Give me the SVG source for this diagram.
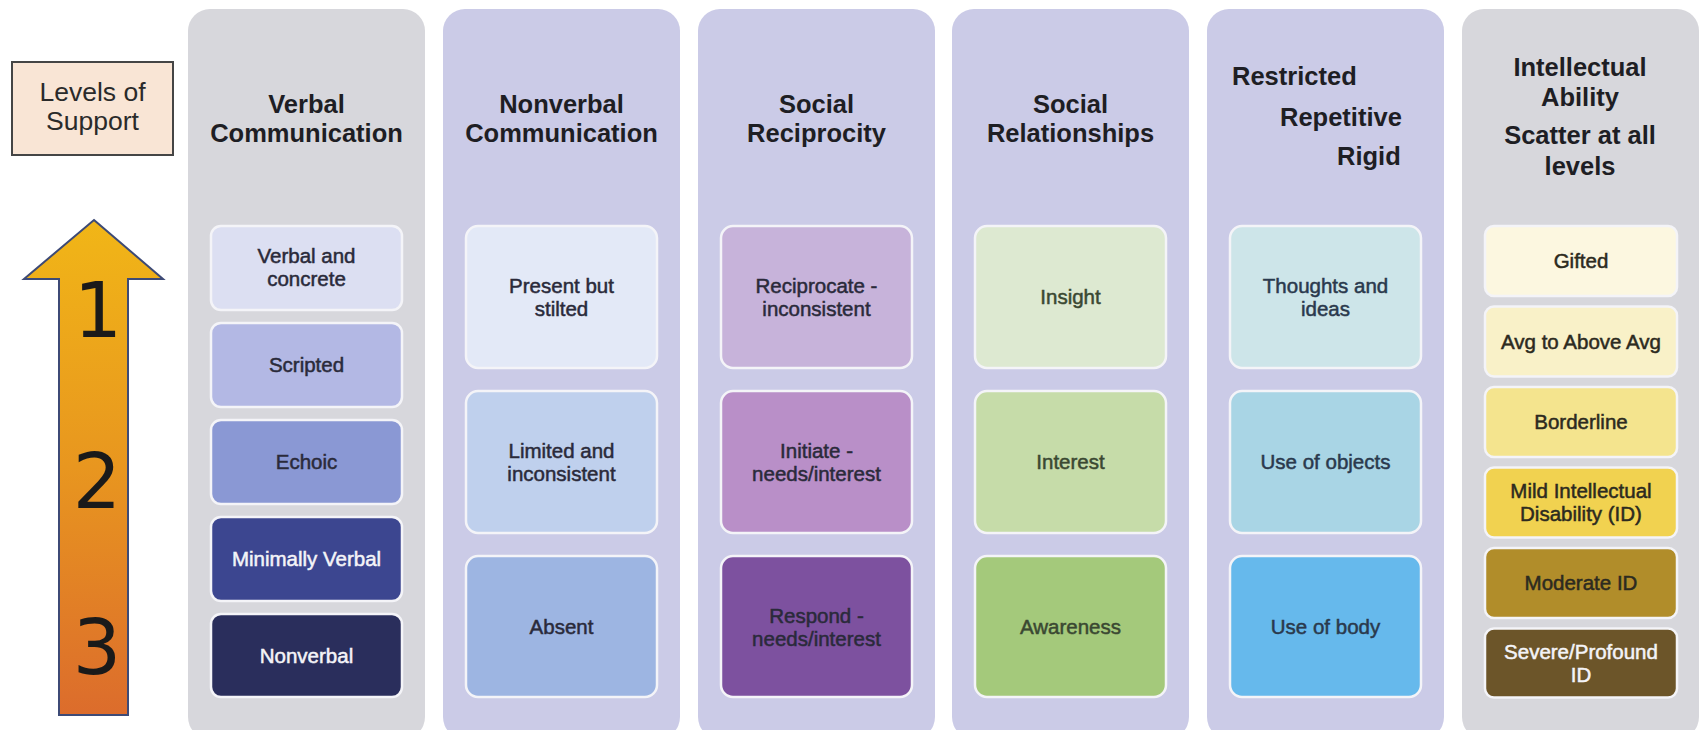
<svg xmlns="http://www.w3.org/2000/svg" width="1702" height="730" viewBox="0 0 1702 730">
<defs>
<linearGradient id="arrowGrad" x1="0" y1="0" x2="0" y2="1">
<stop offset="0" stop-color="#f1b617"/>
<stop offset="0.5" stop-color="#e8961f"/>
<stop offset="1" stop-color="#dc6c2c"/>
</linearGradient>
<style>
.colG{fill:#d7d7dc;}
.colL{fill:#cbcbe7;}
.box{stroke:#f4f4f8;stroke-width:2.5;}
.hdr{font-family:"Liberation Sans",Arial,sans-serif;font-weight:bold;font-size:25.5px;fill:#1e1e24;text-anchor:middle;}
.hdrS{font-family:"Liberation Sans",Arial,sans-serif;font-weight:bold;font-size:25.5px;fill:#1e1e24;}
.t{font-family:"Liberation Sans",Arial,sans-serif;font-size:20.5px;text-anchor:middle;fill:#2a2a3a;stroke:#2a2a3a;stroke-width:0.5;}
.tw{fill:#f4f4f8;stroke:#f4f4f8;}
.tg{fill:#3a4832;stroke:#3a4832;}
.tb{fill:#2a394d;stroke:#2a394d;}
.ty{fill:#2c2a20;stroke:#2c2a20;}
.num{font-family:"DejaVu Sans",sans-serif;font-size:76px;fill:#1a1a1a;text-anchor:middle;}
.lvl{font-family:"Liberation Sans",Arial,sans-serif;font-size:26.5px;fill:#2a2a2a;text-anchor:middle;}
</style>
</defs>
<rect width="1702" height="730" fill="#ffffff"/>

<g id="levels-of-support">
<rect x="12" y="62" width="161" height="93" fill="#f9e5d5" stroke="#454545" stroke-width="2"/>
<text class="lvl" x="92.5" y="101">Levels of</text>
<text class="lvl" x="92.5" y="130">Support</text>
</g>

<g id="support-arrow">
<polygon points="94,220 163,279 128,279 128,715 59,715 59,279 24,279" fill="url(#arrowGrad)" stroke="#3d4a76" stroke-width="2"/>
<text class="num" x="98" y="337">1</text>
<text class="num" x="97" y="508">2</text>
<text class="num" x="97" y="674">3</text>
</g>

<g id="col-verbal">
<rect class="colG" x="188" y="9" width="237" height="730" rx="22"/>
<text class="hdr" x="306.5" y="113">Verbal</text>
<text class="hdr" x="306.5" y="142">Communication</text>
<rect class="box" x="211" y="226" width="191" height="84" rx="10" fill="#dcdff2"/>
<text class="t" x="306.5" y="263">Verbal and</text>
<text class="t" x="306.5" y="286">concrete</text>
<rect class="box" x="211" y="323" width="191" height="84" rx="10" fill="#b3b8e4"/>
<text class="t" x="306.5" y="372">Scripted</text>
<rect class="box" x="211" y="420" width="191" height="84" rx="10" fill="#8a98d4"/>
<text class="t" x="306.5" y="469">Echoic</text>
<rect class="box" x="211" y="517" width="191" height="84" rx="10" fill="#3c4690"/>
<text class="t tw" x="306.5" y="566">Minimally Verbal</text>
<rect class="box" x="211" y="614" width="191" height="83" rx="10" fill="#2a2e5c"/>
<text class="t tw" x="306.5" y="663">Nonverbal</text>
</g>

<g id="col-nonverbal">
<rect class="colL" x="443" y="9" width="237" height="730" rx="22"/>
<text class="hdr" x="561.5" y="113">Nonverbal</text>
<text class="hdr" x="561.5" y="142">Communication</text>
<rect class="box" x="466" y="226" width="191" height="142" rx="12" fill="#e3e9f7"/>
<text class="t" x="561.5" y="293">Present but</text>
<text class="t" x="561.5" y="316">stilted</text>
<rect class="box" x="466" y="391" width="191" height="142" rx="12" fill="#bfd0ed"/>
<text class="t" x="561.5" y="458">Limited and</text>
<text class="t" x="561.5" y="481">inconsistent</text>
<rect class="box" x="466" y="556" width="191" height="141" rx="12" fill="#9db5e2"/>
<text class="t" x="561.5" y="634">Absent</text>
</g>

<g id="col-reciprocity">
<rect class="colL" x="698" y="9" width="237" height="730" rx="22"/>
<text class="hdr" x="816.5" y="113">Social</text>
<text class="hdr" x="816.5" y="142">Reciprocity</text>
<rect class="box" x="721" y="226" width="191" height="142" rx="12" fill="#c7b3da"/>
<text class="t" x="816.5" y="293">Reciprocate -</text>
<text class="t" x="816.5" y="316">inconsistent</text>
<rect class="box" x="721" y="391" width="191" height="142" rx="12" fill="#b98fc8"/>
<text class="t" x="816.5" y="458">Initiate -</text>
<text class="t" x="816.5" y="481">needs/interest</text>
<rect class="box" x="721" y="556" width="191" height="141" rx="12" fill="#7d519f"/>
<text class="t" x="816.5" y="623">Respond -</text>
<text class="t" x="816.5" y="646">needs/interest</text>
</g>

<g id="col-relationships">
<rect class="colL" x="952" y="9" width="237" height="730" rx="22"/>
<text class="hdr" x="1070.5" y="113">Social</text>
<text class="hdr" x="1070.5" y="142">Relationships</text>
<rect class="box" x="975" y="226" width="191" height="142" rx="12" fill="#dde9d1"/>
<text class="t tg" x="1070.5" y="304">Insight</text>
<rect class="box" x="975" y="391" width="191" height="142" rx="12" fill="#c6dca9"/>
<text class="t tg" x="1070.5" y="469">Interest</text>
<rect class="box" x="975" y="556" width="191" height="141" rx="12" fill="#a4c97b"/>
<text class="t tg" x="1070.5" y="634">Awareness</text>
</g>

<g id="col-restricted">
<rect class="colL" x="1207" y="9" width="237" height="730" rx="22"/>
<text class="hdrS" x="1232" y="85">Restricted</text>
<text class="hdrS" x="1280" y="126">Repetitive</text>
<text class="hdrS" x="1337" y="165">Rigid</text>
<rect class="box" x="1230" y="226" width="191" height="142" rx="12" fill="#cde5e9"/>
<text class="t tb" x="1325.5" y="293">Thoughts and</text>
<text class="t tb" x="1325.5" y="316">ideas</text>
<rect class="box" x="1230" y="391" width="191" height="142" rx="12" fill="#a9d5e5"/>
<text class="t tb" x="1325.5" y="469">Use of objects</text>
<rect class="box" x="1230" y="556" width="191" height="141" rx="12" fill="#66b9ec"/>
<text class="t tb" x="1325.5" y="634">Use of body</text>
</g>

<g id="col-intellectual">
<rect class="colG" x="1462" y="9" width="237" height="730" rx="22"/>
<text class="hdr" x="1580" y="76">Intellectual</text>
<text class="hdr" x="1580" y="106">Ability</text>
<text class="hdr" x="1580" y="144">Scatter at all</text>
<text class="hdr" x="1580" y="175">levels</text>
<rect class="box" x="1485" y="226" width="192" height="70" rx="9" fill="#fcf7e0"/>
<text class="t ty" x="1581" y="268">Gifted</text>
<rect class="box" x="1485" y="306.5" width="192" height="70" rx="9" fill="#f9f1c8"/>
<text class="t ty" x="1581" y="349">Avg to Above Avg</text>
<rect class="box" x="1485" y="387" width="192" height="70" rx="9" fill="#f4e48e"/>
<text class="t ty" x="1581" y="429">Borderline</text>
<rect class="box" x="1485" y="467.5" width="192" height="70" rx="9" fill="#f1d250"/>
<text class="t ty" x="1581" y="498">Mild Intellectual</text>
<text class="t ty" x="1581" y="521">Disability (ID)</text>
<rect class="box" x="1485" y="548" width="192" height="70" rx="9" fill="#b18d2a"/>
<text class="t ty" x="1581" y="590">Moderate ID</text>
<rect class="box" x="1485" y="628.5" width="192" height="69" rx="9" fill="#6c5529"/>
<text class="t tw" x="1581" y="659">Severe/Profound</text>
<text class="t tw" x="1581" y="682">ID</text>
</g>

<g id="connectors"></g>
</svg>
